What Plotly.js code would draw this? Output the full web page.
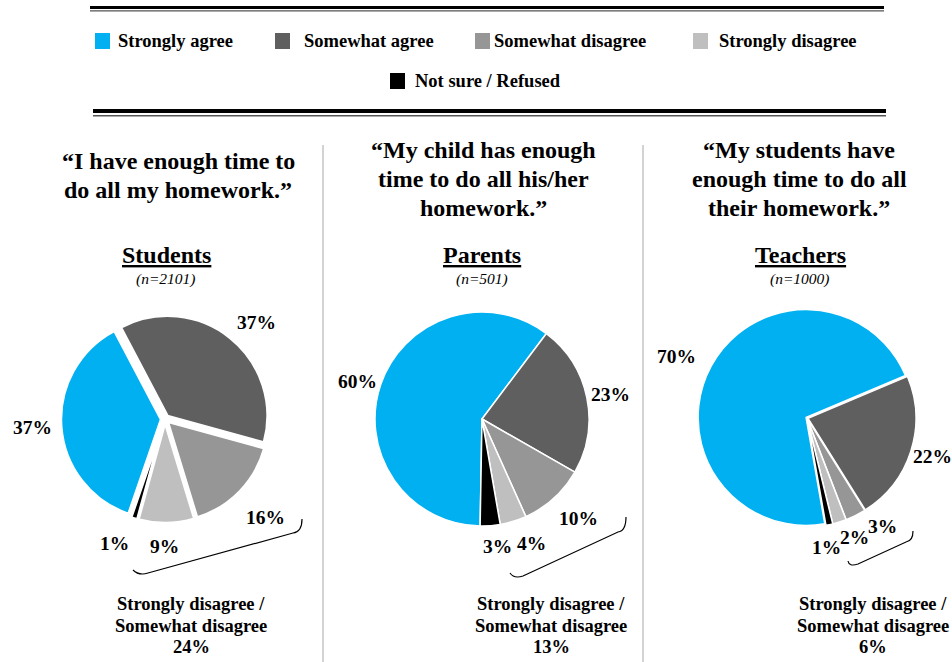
<!DOCTYPE html>
<html>
<head>
<meta charset="utf-8">
<script src="https://cdn.plot.ly/plotly-3.0.1.min.js"></script>
<style>html,body{margin:0;padding:0;background:#fff;}#chart{width:952px;height:662px;}</style>
</head>
<body>
<div id="chart"></div>
<script>
// ---- data ----
const categories = ['Strongly agree', 'Somewhat agree', 'Somewhat disagree', 'Strongly disagree', 'Not sure / Refused'];
const colors = ['#00B0F0', '#5F5F5F', '#969696', '#BFBFBF', '#000000'];
const groups = ['Students', 'Parents', 'Teachers'];
const groupN = [2101, 501, 1000];
const questions = [
  ['\u201CI have enough time to', 'do all my homework.\u201D'],
  ['\u201CMy child has enough', 'time to do all his/her', 'homework.\u201D'],
  ['\u201CMy students have', 'enough time to do all', 'their homework.\u201D']
];
const studentsValues = [37, 37, 16, 9, 1];
const parentsValues = [60, 23, 10, 4, 3];
const teachersValues = [70, 22, 3, 2, 1];
const disagreeTotals = [24, 13, 6];

// ---- layout helpers (pixel -> paper) ----
const W = 952, H = 662;
const px = x => x / W;
const py = y => 1 - y / H;
const FONT = "'Liberation Serif', 'Times New Roman', serif";

const allValues = [studentsValues, parentsValues, teachersValues];
const pieCenters = [[165, 419], [482, 419], [807, 418]];
const pieHalf = [104, 107, 109];
const pieRotation = [199, 181, 170];
const piePull = [0.04, 0, 0.01];
const pieLine = [2.5, 1.5, 1.5];

const traces = allValues.map((vals, k) => {
  const [cx, cy] = pieCenters[k];
  const h = pieHalf[k];
  return {
    type: 'pie',
    labels: categories,
    values: vals,
    sort: false,
    direction: 'clockwise',
    rotation: pieRotation[k],
    pull: piePull[k],
    textinfo: 'none',
    hoverinfo: 'label+percent',
    showlegend: false,
    marker: {colors: colors, line: {color: '#FFFFFF', width: pieLine[k]}},
    domain: {x: [px(cx - h), px(cx + h)], y: [py(cy + h), py(cy - h)]}
  };
});

const annotations = [];
const shapes = [];
function txt(x, y, text, size, anchor) {
  annotations.push({
    xref: 'paper', yref: 'paper', x: px(x), y: py(y),
    xanchor: anchor || 'center', yanchor: 'middle', showarrow: false,
    text: text, font: {family: FONT, size: size, color: '#000'}
  });
}

// slice value labels (positions in px)
const labelPos = [
  [[32, 428], [256, 322], [265, 517], [164, 546], [114, 543]],
  [[357, 381], [610, 394], [578, 518], [531, 543], [497, 546]],
  [[676, 356], [932, 456], [882, 526], [854, 537], [826, 547]]
];
allValues.forEach((vals, k) => {
  vals.forEach((v, i) => txt(labelPos[k][i][0], labelPos[k][i][1], '<b>' + v + '%</b>', 19.5));
});

// question titles, one line each
const qX = [178, 483, 799];
const qY0 = [161, 150, 150];
questions.forEach((lines, k) => {
  lines.forEach((ln, j) => txt(qX[k], qY0[k] + j * 29, '<b>' + ln + '</b>', 24));
});

// group names and n
const gX = [166, 482, 800];
groups.forEach((g, k) => {
  txt(gX[k], 255, '<b><u>' + g + '</u></b>', 24);
  txt(gX[k], 279, '<i>(n=' + groupN[k] + ')</i>', 15.5);
});

// bottom totals
const bX = [191, 551, 873];
disagreeTotals.forEach((t, k) => {
  txt(bX[k], 604, '<b>' + categories[3] + ' /</b>', 18.5);
  txt(bX[k], 625.5, '<b>' + categories[2] + '</b>', 18.5);
  txt(bX[k], 647, '<b>' + t + '%</b>', 18.5);
});

// legend (custom)
const legSq = [[95, 41], [275, 41], [475, 41], [693, 41], [390, 81]];
const legTx = [116, 302, 492, 717, 413];
categories.forEach((c, i) => {
  shapes.push({
    type: 'rect', xref: 'paper', yref: 'paper',
    x0: px(legSq[i][0]), x1: px(legSq[i][0] + 15), y0: py(legSq[i][1] + 8), y1: py(legSq[i][1] - 8),
    fillcolor: colors[i], line: {width: 0}
  });
  txt(legTx[i], legSq[i][1], '<b>' + c + '</b>', 18.5, 'left');
});

// decorative horizontal double rules
function hline(x0, x1, y, w, col) {
  shapes.push({type: 'line', xref: 'paper', yref: 'paper', x0: px(x0), x1: px(x1), y0: py(y), y1: py(y), line: {color: col, width: w}});
}
hline(90, 884, 7.5, 3, '#000');
hline(90, 884, 10.8, 1.2, '#555');
hline(93, 886, 111, 4, '#000');
hline(93, 886, 115.8, 1.5, '#555');

// vertical separators
[323, 643].forEach(x => {
  shapes.push({type: 'line', xref: 'paper', yref: 'paper', x0: px(x), x1: px(x), y0: py(145), y1: py(662), line: {color: '#A6A6A6', width: 1}});
});

// braces (right-top end, corner, left-low corner, left end)
const braces = [
  [[302, 519], [297, 530], [145, 574], [133, 570]],
  [[626, 517], [622, 529], [520, 577], [510, 573]],
  [[913, 531], [910, 539], [855, 565], [848, 561]]
];
braces.forEach(b => {
  const P = p => px(p[0]) + ',' + py(p[1]);
  const [a, c1, c2, e] = b;
  const d = 'M' + P(a) + ' Q' + P([a[0], c1[1] + 2]) + ' ' + P([c1[0] - 4, c1[1] + 3]) +
            ' L' + P([c2[0] + 3, c2[1] - 1]) + ' Q' + P([c2[0] - 6, c2[1] + 2]) + ' ' + P(e);
  shapes.push({type: 'path', xref: 'paper', yref: 'paper', path: d, line: {color: '#000', width: 1.2}});
});

const layout = {
  width: W, height: H,
  margin: {l: 0, r: 0, t: 0, b: 0},
  paper_bgcolor: '#FFFFFF',
  plot_bgcolor: '#FFFFFF',
  showlegend: false,
  font: {family: FONT, color: '#000'},
  annotations: annotations,
  shapes: shapes
};

Plotly.newPlot('chart', traces, layout, {displayModeBar: false, staticPlot: true});
</script>
</body>
</html>
